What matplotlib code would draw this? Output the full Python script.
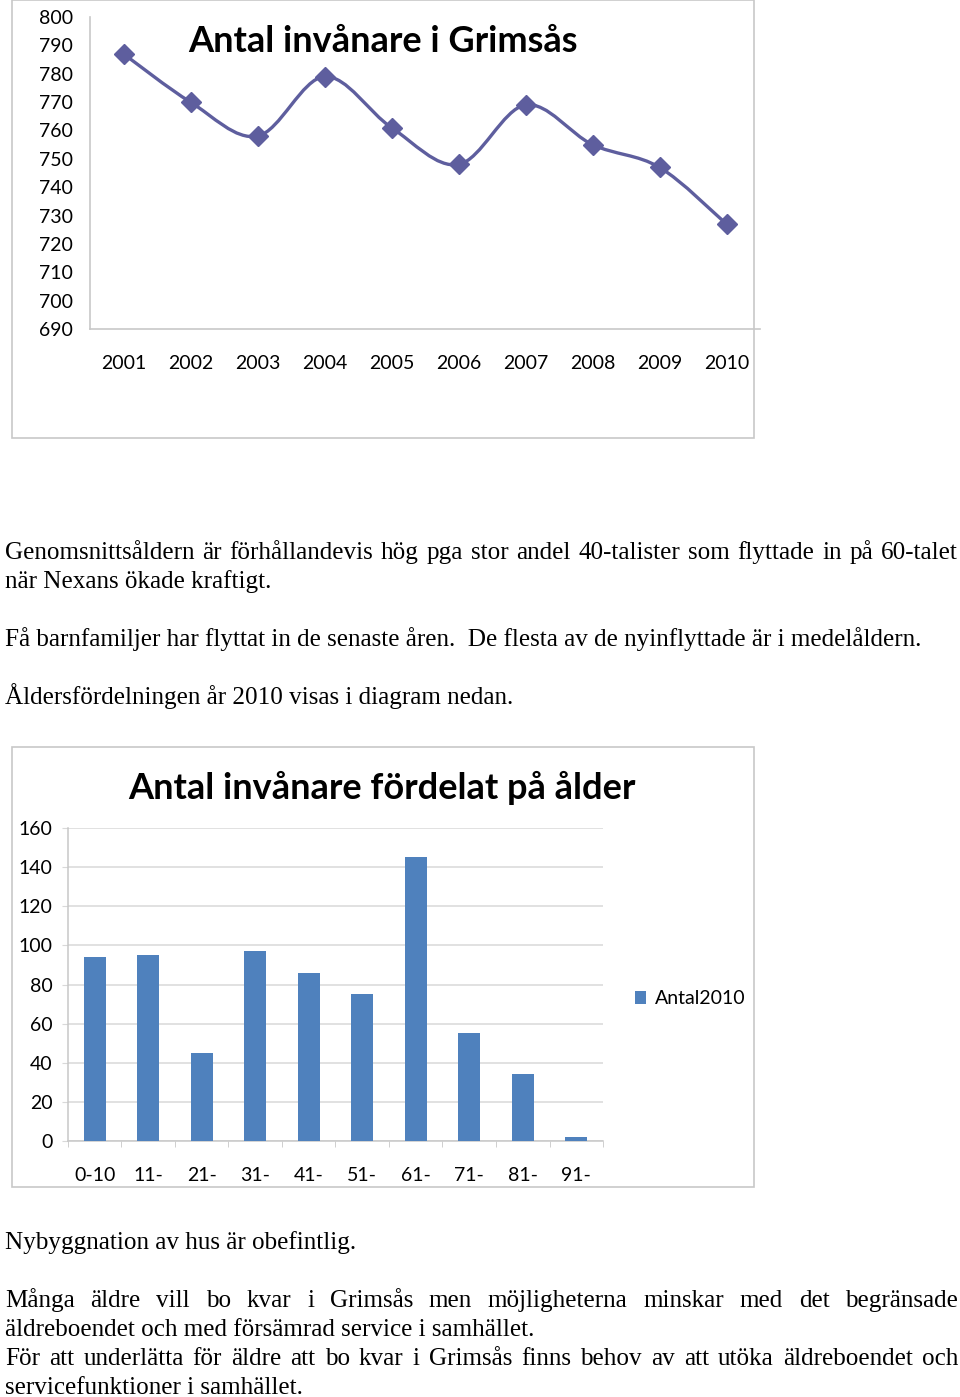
import numpy as np
import matplotlib
matplotlib.use('Agg')
import matplotlib.pyplot as plt
from matplotlib.path import Path
from matplotlib.patches import PathPatch, Rectangle

#-------------- DATA

years = ['2001', '2002', '2003', '2004', '2005', '2006', '2007', '2008', '2009', '2010']
invanare = [787, 770, 758, 779, 761, 748, 769, 755, 747, 727]

aldersgrupper = ['0-10', '11-', '21-', '31-', '41-', '51-', '61-', '71-', '81-', '91-']
antal2010 = [94, 95, 45, 97, 86, 75, 145, 55, 34, 2]

title_line = 'Antal invånare i Grimsås'
title_bar = 'Antal invånare fördelat på ålder'
series_name = 'Antal2010'

text_top = [
    ('Genomsnittsåldern är förhållandevis hög pga stor andel 40-talister som flyttade in på 60-talet', 551, True),
    ('när Nexans ökade kraftigt.', 580, False),
    ('Få barnfamiljer har flyttat in de senaste åren.  De flesta av de nyinflyttade är i medelåldern.', 638, False),
    ('Åldersfördelningen år 2010 visas i diagram nedan.', 696, False),
]
text_bottom = [
    ('Nybyggnation av hus är obefintlig.', 1241, False),
    ('Många äldre vill bo kvar i Grimsås men möjligheterna minskar med det begränsade', 1299, True),
    ('äldreboendet och med försämrad service i samhället.', 1328, False),
    ('För att underlätta för äldre att bo kvar i Grimsås finns behov av att utöka äldreboendet och', 1357, True),
    ('servicefunktioner i samhället.', 1386, False),
]

#-------------- SETUP

W, H = 960, 1397
plt.rcParams['font.family'] = ['Lato', 'DejaVu Sans']
fig = plt.figure(figsize=(W / 100, H / 100), dpi=100)
renderer = fig.canvas.get_renderer()


def rect(x0, y0, x1, y1):
    # pixel box (top-left origin) -> figure fraction
    return [x0 / W, 1 - y1 / H, (x1 - x0) / W, (y1 - y0) / H]


def frame(x0, y0, x1, y1):
    fig.add_artist(Rectangle((x0 / W, 1 - y1 / H), (x1 - x0) / W, (y1 - y0) / H,
                             transform=fig.transFigure, fill=False,
                             ec='#c8c8c8', lw=1.2))


def smooth_path(xs, ys):
    # bezier curve through the points, like the spreadsheet "smoothed line"
    pts = np.column_stack([xs, ys]).astype(float)
    n = len(pts)
    verts = [pts[0]]
    codes = [Path.MOVETO]
    for i in range(n - 1):
        p0 = pts[max(i - 1, 0)]
        p1 = pts[i]
        p2 = pts[i + 1]
        p3 = pts[min(i + 2, n - 1)]
        c1 = p1 + (p2 - p0) / 6
        c2 = p2 - (p3 - p1) / 6
        verts += [c1, c2, p2]
        codes += [Path.CURVE4] * 3
    return Path(verts, codes)


#-------------- LINE CHART

frame(12, 0, 754, 438)
ax1 = fig.add_axes(rect(90, 17, 760, 329))
xpos = np.arange(1, len(years) + 1)
ax1.add_patch(PathPatch(smooth_path(xpos, invanare), fill=False,
                        ec='#5e5e9e', lw=2.4, capstyle='round'))
ax1.plot(xpos, invanare, 'D', color='#5e5e9e', markersize=10, clip_on=False)
ax1.set_xlim(0.5, 10.5)
ax1.set_ylim(690, 800)
ax1.set_yticks(range(690, 801, 10))
ax1.set_xticks(xpos)
ax1.set_xticklabels(years)
for s in ['top', 'right']:
    ax1.spines[s].set_visible(False)
for s in ['left', 'bottom']:
    ax1.spines[s].set_color('#c8c8c8')
    ax1.spines[s].set_linewidth(1.2)
ax1.tick_params(axis='y', length=0, pad=12, labelsize=14)
ax1.tick_params(axis='x', length=0, pad=19, labelsize=14)
fig.text(383 / W, 1 - 41 / H, title_line, ha='center', va='center',
         fontsize=26, fontweight='bold')

#-------------- BAR CHART

frame(12, 747, 754, 1187)
ax2 = fig.add_axes(rect(68, 828, 603, 1141))
ax2.bar(xpos, antal2010, width=0.41, color='#4f81bd', label=series_name, zorder=3)
ax2.set_xlim(0.5, 10.5)
ax2.set_ylim(0, 160)
ax2.set_yticks(range(0, 161, 20))
ax2.set_xticks(xpos)
ax2.set_xticklabels(aldersgrupper)
ax2.set_xticks(np.arange(0.5, 11, 1), minor=True)
ax2.yaxis.grid(True, color='#d9d9d9', lw=1.1, zorder=0)
for s in ['top', 'right']:
    ax2.spines[s].set_visible(False)
for s in ['left', 'bottom']:
    ax2.spines[s].set_color('#c8c8c8')
    ax2.spines[s].set_linewidth(1.1)
ax2.tick_params(axis='y', length=4.3, color='#d9d9d9', pad=7, labelsize=14)
ax2.tick_params(axis='x', which='major', length=0, pad=19, labelsize=14)
ax2.tick_params(axis='x', which='minor', length=4.3, color='#c8c8c8')
ax2.legend(loc='center left', bbox_to_anchor=(617 / W, 1 - 999 / H),
           bbox_transform=fig.transFigure, frameon=False, fontsize=14,
           handlelength=0.6, handleheight=0.6, handletextpad=0.45)
fig.text(382 / W, 1 - 788 / H, title_bar, ha='center', va='center',
         fontsize=26, fontweight='bold')

#-------------- BODY TEXT

serif = 'Liberation Serif'
probe = fig.text(0, 0, text_top[2][0], fontsize=10, family=serif)
w10 = probe.get_window_extent(renderer).width
probe.remove()
body_size = 10 * 921 / w10


def put_line(txt, yc, justify):
    yb = 1 - (yc + 8) / H
    if not justify:
        fig.text(5 / W, yb, txt, fontsize=body_size, family=serif, va='baseline')
        return
    words = txt.split()
    widths = []
    for wd in words:
        t = fig.text(0, 0, wd, fontsize=body_size, family=serif)
        widths.append(t.get_window_extent(renderer).width)
        t.remove()
    gap = (958 - 5 - sum(widths)) / (len(words) - 1)
    x = 5
    for wd, wdt in zip(words, widths):
        fig.text(x / W, yb, wd, fontsize=body_size, family=serif, va='baseline')
        x += wdt + gap


for txt, yc, just in text_top + text_bottom:
    put_line(txt, yc, just)

plt.savefig('out.png', dpi=100)
